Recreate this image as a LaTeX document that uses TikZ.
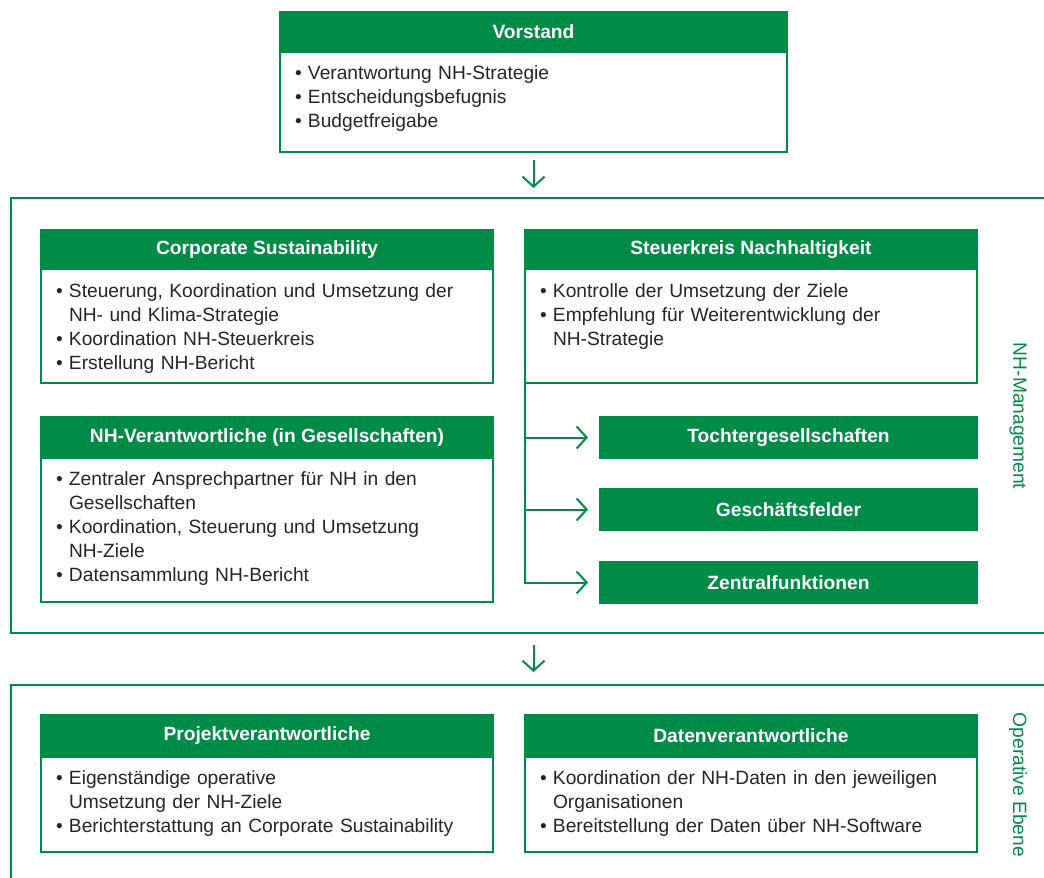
\documentclass[tikz,border=0pt]{standalone}
\usepackage{fontspec}
\setmainfont{Liberation Sans}
\usepackage{xcolor}
\usepackage{tikz}
\usetikzlibrary{positioning,arrows.meta}
\definecolor{nhgreen}{HTML}{008C47}
\definecolor{nhtext}{HTML}{262626}
\newcommand{\bpt}{\makebox[6.5pt][l]{\textbullet}}
\newcommand{\cnt}{\hspace*{6.5pt}}

\begin{document}
\begin{tikzpicture}[
x=0.5pt,y=-0.5pt,
every node/.style={font=\fontsize{9.6}{12}\selectfont},
Head/.style={draw=nhgreen,fill=nhgreen,line width=1pt,text=white,font=\fontsize{9.6}{12}\selectfont\bfseries,
  minimum height=20pt,inner sep=0pt,outer sep=0pt,anchor=north west},
Body/.style={draw=nhgreen,fill=white,line width=1pt,text=nhtext,align=left,
  inner xsep=7.5pt,inner ysep=0pt,outer sep=0pt,text height=13.5pt},
Frame/.style={draw=nhgreen,line width=1pt},
Arr/.style={nhgreen,line width=1pt,-{Straight Barb[length=5pt,width=11pt]}},
SideLbl/.style={text=nhgreen,rotate=-90}
]
\useasboundingbox (0,0) rectangle (1044,878);

% outer frames (open on the right)
\draw[Frame] (1044,198) -- (11,198) -- (11,633) -- (1044,633);
\draw[Frame] (1044,685) -- (11,685) -- (11,878);
\coordinate (nhtop) at (533.5,198);
\coordinate (nhbot) at (533.5,633);
\coordinate (oetop) at (533.5,685);

\node[SideLbl] (nhlbl) at (1018,416) {NH-Management};
\node[SideLbl] (oelbl) at (1018,785) {Operative Ebene};

% Vorstand
\node[Head,minimum width=253.5pt] (vh) at (280,12) {Vorstand};
\node[Body,text width=238.5pt,text depth=36.5pt,below=0pt of vh] (vb)
{\bpt Verantwortung NH-Strategie\\
 \bpt Entscheidungsbefugnis\\
 \bpt Budgetfreigabe};

% NH-Management
\node[Head,minimum width=226pt,minimum height=19.5pt] (csh) at (41,230) {Corporate Sustainability};
\node[Body,text width=211pt,text height=14pt,text depth=43pt,below=0pt of csh] (csb)
{\bpt Steuerung, Koordination und Umsetzung der\\
 \cnt NH- und Klima-Strategie\\
 \bpt Koordination NH-Steuerkreis\\
 \bpt Erstellung NH-Bericht};

\node[Head,minimum width=226pt,minimum height=19.5pt] (skh) at (525,230) {Steuerkreis Nachhaltigkeit};
\node[Body,text width=211pt,text height=14pt,text depth=43pt,below=0pt of skh] (skb)
{\bpt Kontrolle der Umsetzung der Ziele\\
 \bpt Empfehlung für Weiterentwicklung der\\
 \cnt NH-Strategie};

\node[Head,minimum width=226pt,minimum height=20.5pt] (nvh) at (41,417) {NH-Verantwortliche (in Gesellschaften)};
\node[Body,text width=211pt,text depth=58.5pt,below=0pt of nvh] (nvb)
{\bpt Zentraler Ansprechpartner für NH in den\\
 \cnt Gesellschaften\\
 \bpt Koordination, Steuerung und Umsetzung\\
 \cnt NH-Ziele\\
 \bpt Datensammlung NH-Bericht};

\node[Head,minimum width=188.5pt,minimum height=20.5pt] (tg) at (600,417) {Tochtergesellschaften};
\node[Head,minimum width=188.5pt,minimum height=20.5pt] (gf) at (600,489) {Geschäftsfelder};
\node[Head,minimum width=188.5pt,minimum height=20.5pt] (zf) at (600,562) {Zentralfunktionen};

% Operative Ebene
\node[Head,minimum width=226pt,minimum height=21pt] (pvh) at (41,715) {Projektverantwortliche};
\node[Body,text width=211pt,text depth=34pt,below=0pt of pvh] (pvb)
{\bpt Eigenständige operative\\
 \cnt Umsetzung der NH-Ziele\\
 \bpt Berichterstattung an Corporate Sustainability};

\node[Head,minimum width=226pt,minimum height=21pt] (dvh) at (525,715) {Datenverantwortliche};
\node[Body,text width=211pt,text depth=34pt,below=0pt of dvh] (dvb)
{\bpt Koordination der NH-Daten in den jeweiligen\\
 \cnt Organisationen\\
 \bpt Bereitstellung der Daten über NH-Software};

% connectors
\draw[Arr] ([yshift=-4pt]vb.south) -- ([yshift=5pt]nhtop);
\draw[Arr] ([yshift=-6pt]nhbot) -- ([yshift=6.5pt]oetop);

\draw[Arr] (skb.south west) |- ([xshift=-6pt]zf.west);
\draw[Arr] (skb.south west |- tg.west) -- ([xshift=-6pt]tg.west);
\draw[Arr] (skb.south west |- gf.west) -- ([xshift=-6pt]gf.west);

\end{tikzpicture}
\end{document}
